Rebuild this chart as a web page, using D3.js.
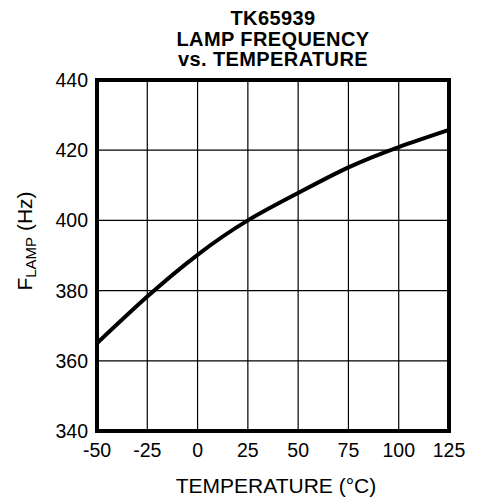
<!DOCTYPE html>
<html>
<head>
<meta charset="utf-8">
<script src="https://cdn.jsdelivr.net/npm/d3@7"></script>
<style>
  body { margin: 0; background: #fff; }
  text { font-family: "Liberation Sans", Arial, sans-serif; fill: #000; }
</style>
</head>
<body>
<div id="chart"></div>
<script>
  // data
  const temps = [-50, -25, 0, 25, 50, 75, 100, 125];
  const freqs = [365, 378.3, 390.2, 400, 407.8, 415.1, 420.9, 425.8];
  const xTicks = [-50, -25, 0, 25, 50, 75, 100, 125];
  const yTicks = [340, 360, 380, 400, 420, 440];
  const titleLines = ['TK65939', 'LAMP FREQUENCY', 'vs. TEMPERATURE'];

  const width = 481, height = 499;
  const svg = d3.select('#chart').append('svg')
    .attr('width', width)
    .attr('height', height);

  const x = d3.scaleLinear().domain([-50, 125]).range([97, 449]);
  const y = d3.scaleLinear().domain([340, 440]).range([431, 80]);

  // grid
  svg.append('g').selectAll('line.v')
    .data(xTicks.slice(1, -1))
    .enter().append('line')
    .attr('x1', d => x(d)).attr('x2', d => x(d))
    .attr('y1', y(340)).attr('y2', y(440))
    .attr('stroke', '#000').attr('stroke-width', 1.2);

  svg.append('g').selectAll('line.h')
    .data(yTicks.slice(1, -1))
    .enter().append('line')
    .attr('x1', x(-50)).attr('x2', x(125))
    .attr('y1', d => y(d)).attr('y2', d => y(d))
    .attr('stroke', '#000').attr('stroke-width', 1.2);

  // curve
  const line = d3.line()
    .x((d, i) => x(temps[i]))
    .y(d => y(d))
    .curve(d3.curveNatural);

  svg.append('path')
    .datum(freqs)
    .attr('d', line)
    .attr('fill', 'none')
    .attr('stroke', '#000')
    .attr('stroke-width', 4);

  // frame
  svg.append('rect')
    .attr('x', x(-50)).attr('y', y(440))
    .attr('width', x(125) - x(-50))
    .attr('height', y(340) - y(440))
    .attr('fill', 'none')
    .attr('stroke', '#000')
    .attr('stroke-width', 4);

  // tick labels
  svg.append('g').selectAll('text')
    .data(xTicks)
    .enter().append('text')
    .attr('x', d => x(d))
    .attr('y', 457)
    .attr('text-anchor', 'middle')
    .attr('font-size', 19.5)
    .text(d => d);

  svg.append('g').selectAll('text')
    .data(yTicks)
    .enter().append('text')
    .attr('x', 88)
    .attr('y', d => y(d) + 7)
    .attr('text-anchor', 'end')
    .attr('font-size', 19.5)
    .text(d => d);

  // title
  svg.append('g').selectAll('text')
    .data(titleLines)
    .enter().append('text')
    .attr('x', 273)
    .attr('y', (d, i) => 25 + i * 20.5)
    .attr('text-anchor', 'middle')
    .attr('font-size', 20)
    .attr('letter-spacing', 0.4)
    .attr('font-weight', 'bold')
    .text(d => d);

  // axis labels
  svg.append('text')
    .attr('x', 276)
    .attr('y', 493)
    .attr('text-anchor', 'middle')
    .attr('font-size', 21)
    .text('TEMPERATURE (°C)');

  const yl = svg.append('text')
    .attr('transform', 'translate(32,241) rotate(-90)')
    .attr('text-anchor', 'middle')
    .attr('font-size', 21);
  yl.append('tspan').text('F');
  yl.append('tspan').attr('font-size', 15).attr('dy', 4).text('LAMP');
  yl.append('tspan').attr('dy', -4).text(' (Hz)');
</script>
</body>
</html>
